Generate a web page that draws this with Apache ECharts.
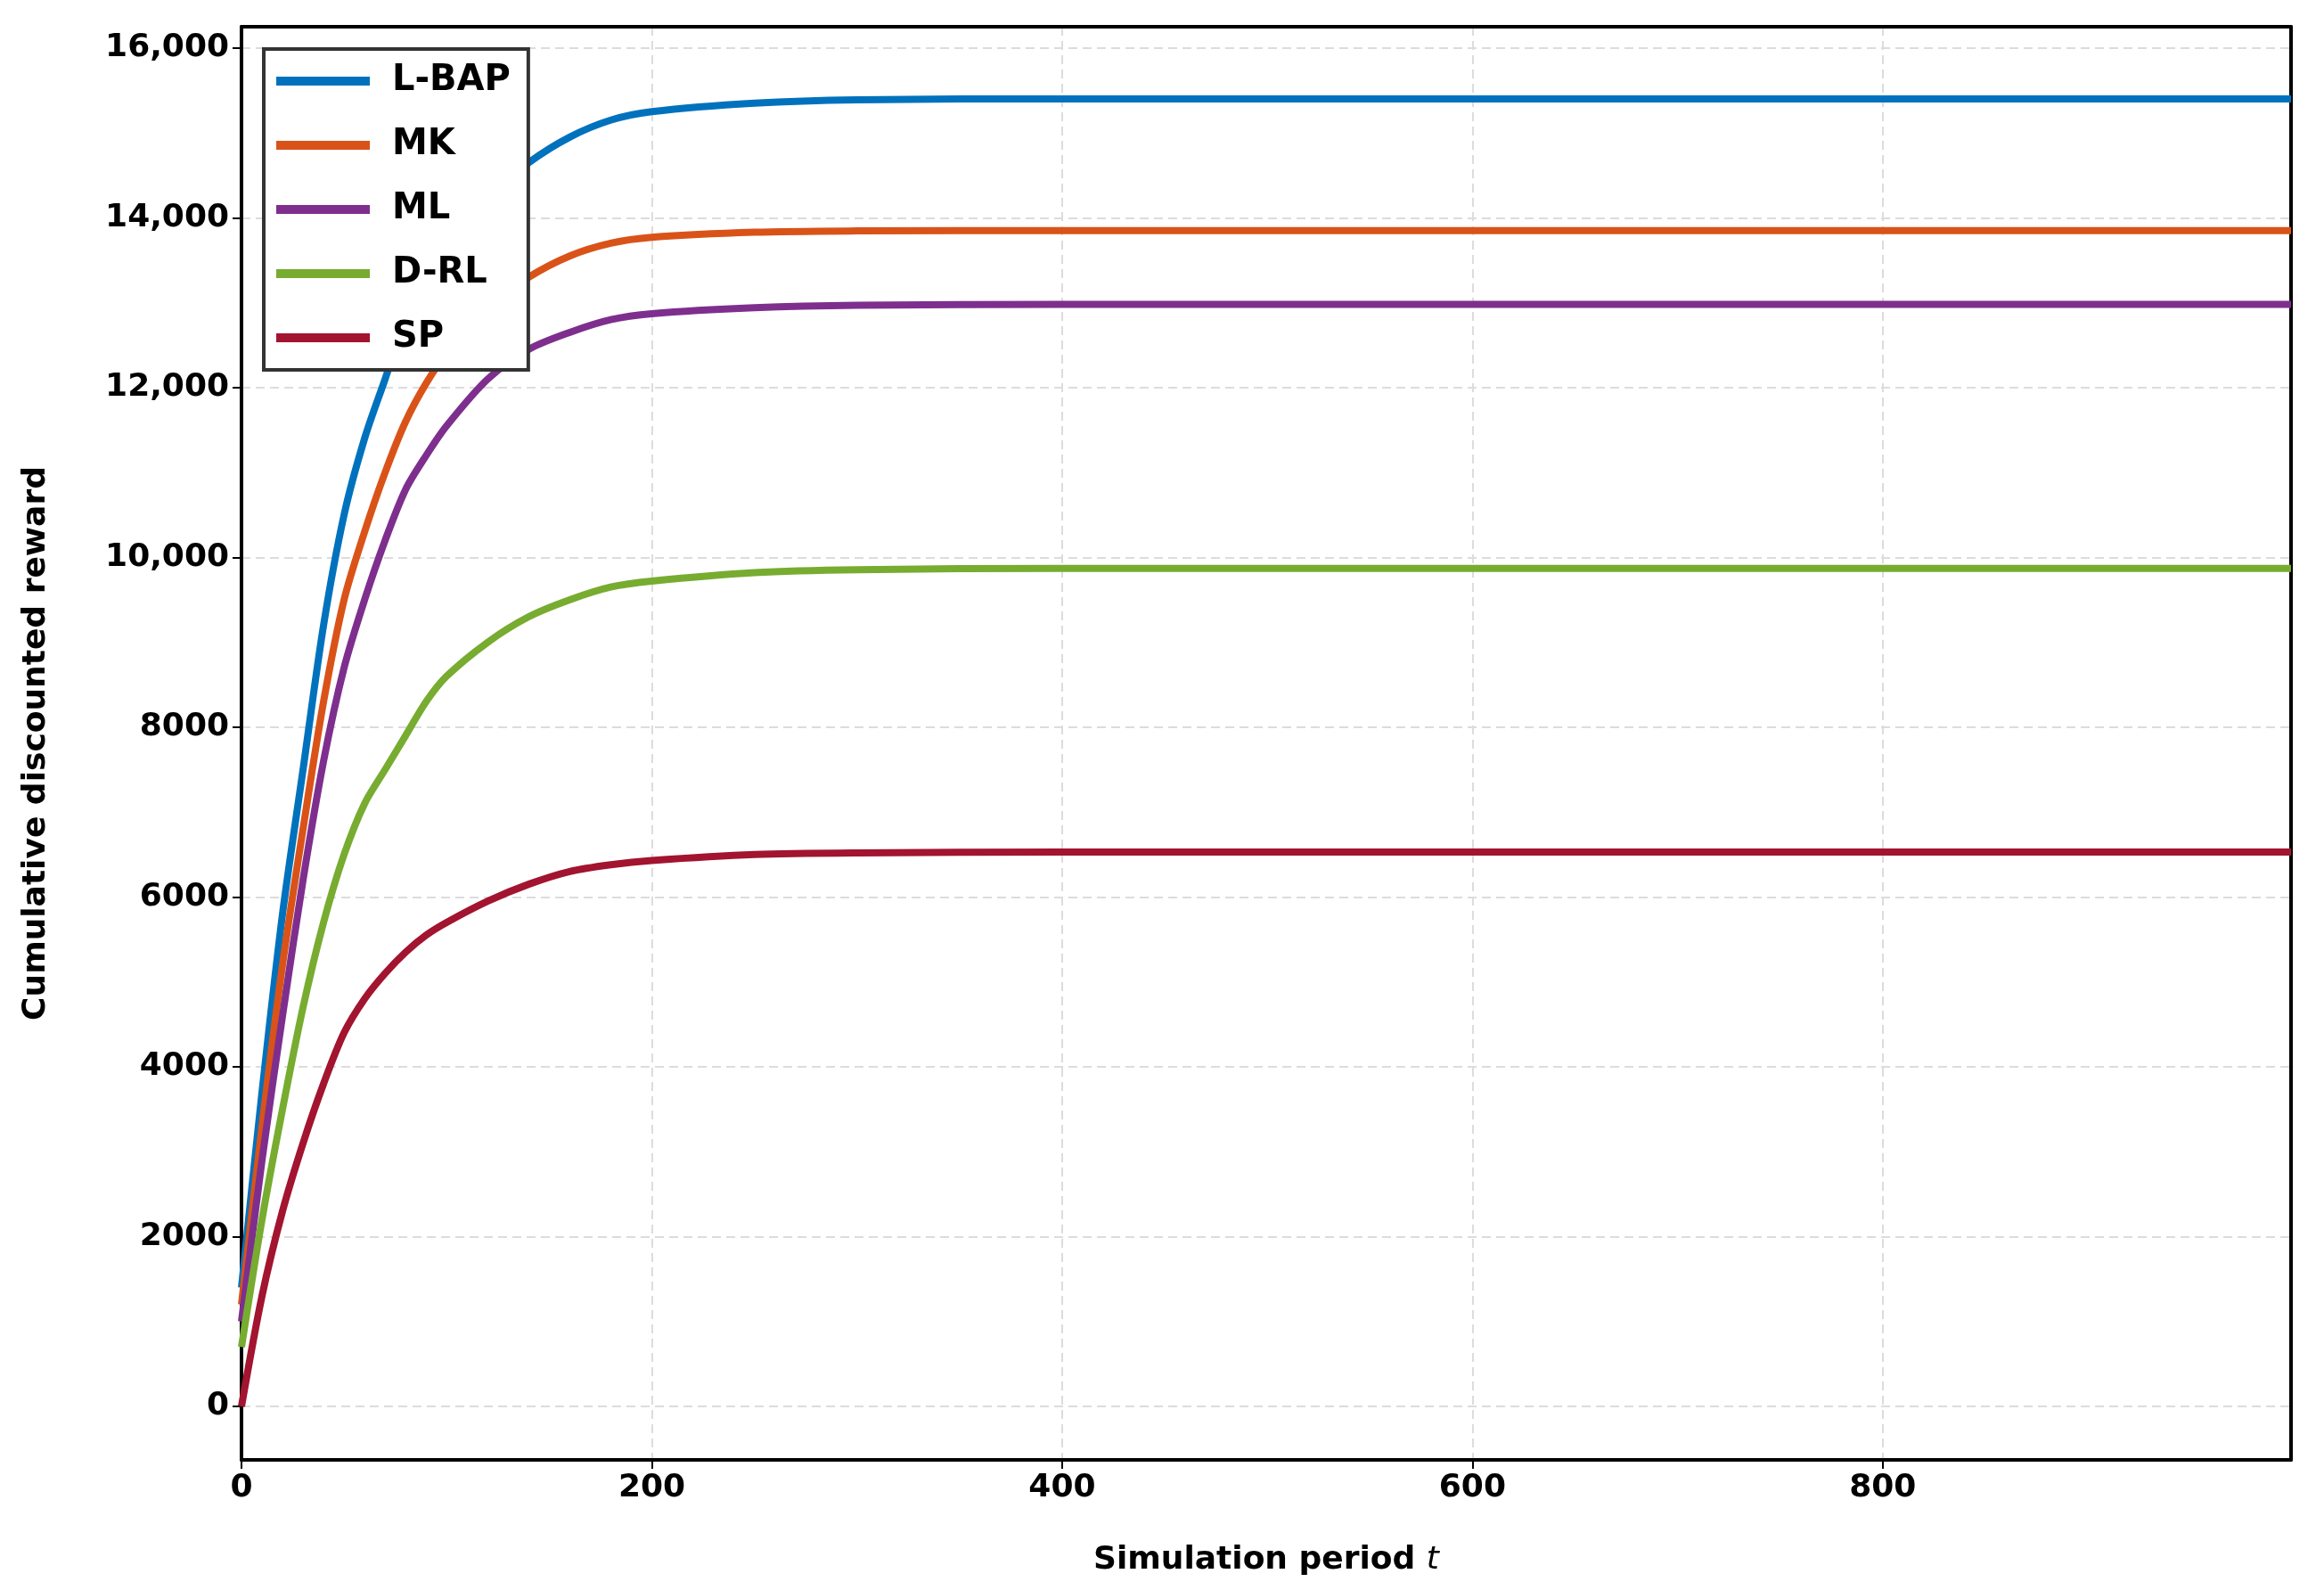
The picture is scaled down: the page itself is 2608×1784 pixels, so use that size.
<!DOCTYPE html>
<html><head><meta charset="utf-8">
<script src="https://cdn.jsdelivr.net/npm/echarts@6/dist/echarts.min.js"></script>
<style>html,body{margin:0;padding:0;background:#fff}#c{width:2608px;height:1784px}</style>
</head><body><div id="c"></div>
<script>
const t = [0,10,20,30,40,50,60,70,80,90,100,120,140,160,180,200,250,300,400,999];
const lbap = [1400,3700,5800,7500,9200,10500,11400,12100,12800,13300,13650,14250,14650,14950,15150,15250,15350,15390,15400,15400];
const mk = [1200,3300,5200,6800,8300,9500,10300,11000,11600,12050,12400,12950,13300,13550,13700,13770,13830,13845,13850,13850];
const ml = [1000,2900,4600,6200,7600,8700,9500,10200,10800,11200,11550,12100,12450,12650,12800,12870,12940,12970,12980,12980];
const drl = [700,2200,3500,4700,5700,6500,7100,7500,7900,8300,8600,9000,9300,9500,9650,9720,9820,9855,9870,9870];
const sp = [0,1300,2300,3100,3800,4400,4800,5100,5350,5550,5700,5950,6150,6300,6380,6430,6500,6520,6530,6530];
const names = ['L-BAP','MK','ML','D-RL','SP'];
const colors = ['#0072BD','#D95319','#7E2F8E','#77AC30','#A2142F'];
const yTicks = [0,2000,4000,6000,8000,10000,12000,14000,16000];
const F = 'DejaVu Sans';
const all = [lbap,mk,ml,drl,sp];
const chart = echarts.init(document.getElementById('c'));
const frame = {lineStyle:{color:'#000',width:4}};
chart.setOption({
  animation:false,
  textStyle:{fontFamily:F},
  grid:{left:271,right:37,top:30,bottom:146},
  legend:{left:296,top:55,orient:'vertical',itemWidth:105,itemHeight:10,itemGap:32,
    borderColor:'#333',borderWidth:4,padding:[16,20,16,14],backgroundColor:'#fff',
    textStyle:{fontSize:40,fontWeight:'bold',color:'#000',fontFamily:F,padding:[0,0,0,20]},
    icon:'rect',data:names},
  xAxis:[{type:'value',min:0,max:999,interval:200,
    name:'{a|Simulation period }{b|t}',nameLocation:'middle',nameGap:95,
    nameTextStyle:{rich:{a:{fontSize:36,fontWeight:'bold',fontFamily:F,color:'#000'},b:{fontSize:36,fontStyle:'italic',fontFamily:F,color:'#000'}}},
    axisLine:{onZero:false,...frame},
    axisTick:{length:10,lineStyle:{color:'#000',width:2}},
    axisLabel:{fontSize:36,fontWeight:'bold',color:'#000',margin:14,showMaxLabel:false},
    splitLine:{show:true,lineStyle:{type:[10,6],color:'#dcdcdc',width:2}}},
    {type:'value',position:'top',min:0,max:999,axisLine:{onZero:false,...frame},axisTick:{show:false},axisLabel:{show:false},splitLine:{show:false}}],
  yAxis:[{type:'value',min:-630,max:16250,
    name:'Cumulative discounted reward',nameLocation:'middle',nameGap:212,
    nameTextStyle:{fontSize:36,fontWeight:'bold',color:'#000'},
    axisLine:{show:true,onZero:false,...frame},
    axisTick:{show:true,length:10,customValues:yTicks,lineStyle:{color:'#000',width:2}},
    axisLabel:{fontSize:36,fontWeight:'bold',color:'#000',margin:14,customValues:yTicks,
      formatter:v=>v>=10000?v.toLocaleString('en-US'):String(v)},
    splitLine:{show:true,lineStyle:{type:[10,6],color:'#dcdcdc',width:2}}},
    {type:'value',position:'right',min:-630,max:16250,axisLine:{show:true,onZero:false,...frame},axisTick:{show:false},axisLabel:{show:false},splitLine:{show:false}}],
  series:names.map((n,i)=>({name:n,type:'line',smooth:0.3,showSymbol:false,
    lineStyle:{width:8,color:colors[i]},itemStyle:{color:colors[i]},
    data:t.map((x,j)=>[x,all[i][j]])}))
});
</script></body></html>
